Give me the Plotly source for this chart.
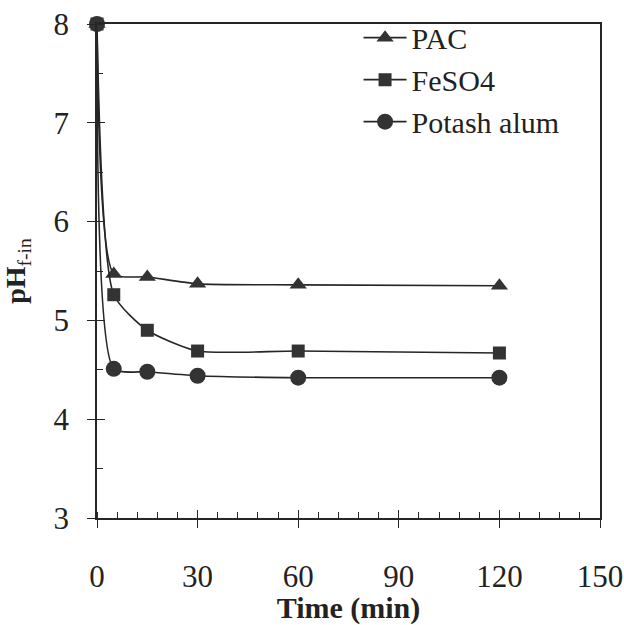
import plotly.graph_objects as go

time_min = [0, 5, 15, 30, 60, 120]
pac = [8.0, 5.47, 5.44, 5.37, 5.36, 5.35]
feso4 = [8.0, 5.26, 4.90, 4.69, 4.69, 4.67]
potash_alum = [8.0, 4.51, 4.48, 4.44, 4.42, 4.42]

x_ticks = [0, 30, 60, 90, 120, 150]
y_ticks = [3, 4, 5, 6, 7, 8]

FONT = "Liberation Serif"
INK = "#262626"

fig = go.Figure()
series = [
    ("PAC", pac, "triangle-up", 15),
    ("FeSO4", feso4, "square", 13),
    ("Potash alum", potash_alum, "circle", 16),
]
for name, vals, sym, size in series:
    fig.add_trace(go.Scatter(
        x=time_min, y=vals, name=name, mode="lines+markers",
        line=dict(color=INK, width=1.6, shape="spline", smoothing=0.6),
        marker=dict(symbol=sym, size=size, color="#333333"),
        cliponaxis=False,
    ))

# invisible trace on overlay axes to carry crossing major ticks
fig.add_trace(go.Scatter(x=[0], y=[3], xaxis="x2", yaxis="y2", mode="markers",
                         marker=dict(opacity=0), showlegend=False, hoverinfo="skip"))

axis_common = dict(showgrid=False, zeroline=False, linecolor=INK, linewidth=1.5,
                   tickcolor=INK, tickwidth=1.3, automargin=False,
                   tickfont=dict(family=FONT, size=31, color="#222222"))

fig.update_layout(
    width=624, height=625,
    margin=dict(l=97, r=24, t=20, b=107),
    paper_bgcolor="white", plot_bgcolor="white",
    font=dict(family=FONT, color="#222222"),
    xaxis=dict(range=[0, 150], tickvals=x_ticks, ticktext=[str(v) for v in x_ticks],
               ticks="outside", ticklen=8, showline=True, mirror=True,
               ticklabelstandoff=22,
               minor=dict(ticks="inside", dtick=6, ticklen=6, tickcolor=INK, tickwidth=1.2),
               title=dict(text="<b>Time (min)</b>", font=dict(family=FONT, size=30), standoff=4),
               **axis_common),
    yaxis=dict(range=[3, 8], tickvals=y_ticks, ticktext=[str(v) for v in y_ticks],
               ticks="outside", ticklen=8, showline=True, mirror=True,
               ticklabelstandoff=12,
               minor=dict(ticks="inside", dtick=0.5, ticklen=6, tickcolor=INK, tickwidth=1.2),
               title=dict(text="<b>pH</b><sub>f-in</sub>", font=dict(family=FONT, size=28), standoff=24),
               **axis_common),
    xaxis2=dict(range=[0, 150], overlaying="x", anchor="y2", side="bottom",
                tickvals=x_ticks, ticks="inside", ticklen=8, tickcolor=INK, tickwidth=1.3,
                showticklabels=False, showgrid=False, zeroline=False, showline=False,
                automargin=False),
    yaxis2=dict(range=[3, 8], overlaying="y", anchor="x2", side="left",
                tickvals=y_ticks, ticks="inside", ticklen=8, tickcolor=INK, tickwidth=1.3,
                showticklabels=False, showgrid=False, zeroline=False, showline=False,
                automargin=False),
    legend=dict(x=0.52, y=1.025, xanchor="left", yanchor="top", bgcolor="rgba(0,0,0,0)",
                font=dict(family=FONT, size=30, color="#222222"),
                tracegroupgap=0, itemwidth=43),
    showlegend=True,
)

fig.write_html("out.html")
